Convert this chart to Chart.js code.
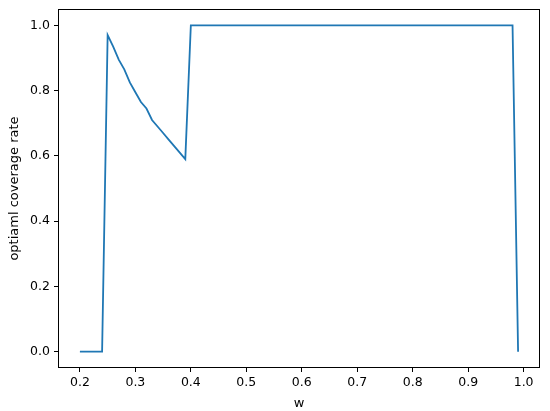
<!DOCTYPE html>
<html>
<head>
<meta charset="utf-8">
<script src="https://cdn.jsdelivr.net/npm/chart.js@4/dist/chart.umd.min.js"></script>
<style>
html,body{margin:0;padding:0;background:#fff;}
#wrap{width:550px;height:411px;position:relative;}
</style>
</head>
<body>
<div id="wrap"><canvas id="c" width="550" height="411"></canvas></div>
<script>
const wValues = [0.20,0.21,0.22,0.23,0.24,0.25,0.26,0.27,0.28,0.29,
  0.30,0.31,0.32,0.33,0.34,0.35,0.36,0.37,0.38,0.39,
  0.40,0.41,0.42,0.43,0.44,0.45,0.46,0.47,0.48,0.49,
  0.50,0.51,0.52,0.53,0.54,0.55,0.56,0.57,0.58,0.59,
  0.60,0.61,0.62,0.63,0.64,0.65,0.66,0.67,0.68,0.69,
  0.70,0.71,0.72,0.73,0.74,0.75,0.76,0.77,0.78,0.79,
  0.80,0.81,0.82,0.83,0.84,0.85,0.86,0.87,0.88,0.89,
  0.90,0.91,0.92,0.93,0.94,0.95,0.96,0.97,0.98,0.99];
const coverageRate = [0,0,0,0,0,0.97,0.935,0.895,0.865,0.825,
  0.795,0.765,0.745,0.71,0.69,0.67,0.65,0.63,0.61,0.59,
  1,1,1,1,1,1,1,1,1,1,
  1,1,1,1,1,1,1,1,1,1,
  1,1,1,1,1,1,1,1,1,1,
  1,1,1,1,1,1,1,1,1,1,
  1,1,1,1,1,1,1,1,1,1,
  1,1,1,1,1,1,1,1,1,0];
const xTicks = [0.2,0.3,0.4,0.5,0.6,0.7,0.8,0.9,1.0];
const yTicks = [0.0,0.2,0.4,0.6,0.8,1.0];
const xLabel = 'w';
const yLabel = 'optiaml coverage rate';

const points = wValues.map((w,i)=>({x:w,y:coverageRate[i]}));

const frame = {
  id:'frame',
  afterDraw(chart){
    const a = chart.chartArea, ctx = chart.ctx;
    ctx.save();
    ctx.strokeStyle = '#000';
    ctx.lineWidth = 1;
    ctx.strokeRect(Math.round(a.left)+0.5, Math.round(a.top)+0.5, Math.round(a.right-a.left)-1, Math.round(a.bottom-a.top)-1);
    ctx.restore();
  }
};

const font = {family:'DejaVu Sans', size:12.5};
const tfont = {family:'DejaVu Sans', size:13};
new Chart(document.getElementById('c'), {
  type:'line',
  data:{datasets:[{data:points, borderColor:'#1f77b4', borderWidth:1.8, pointRadius:0, fill:false, tension:0}]},
  options:{
    responsive:false, animation:false, devicePixelRatio:1,
    layout:{padding:{top:9,right:10,left:0,bottom:0}},
    plugins:{legend:{display:false}, tooltip:{enabled:false}},
    scales:{
      x:{type:'linear', min:0.1605, max:1.0295,
        afterBuildTicks(s){ s.ticks = xTicks.map(v=>({value:v})); },
        afterFit(s){ s.height = 43; s.paddingLeft = 0; s.paddingRight = 0; },
        ticks:{font, color:'#000', padding:3, maxRotation:0, callback:v=>v.toFixed(1)},
        grid:{display:true, drawOnChartArea:false, drawTicks:true, tickLength:4, color:'#000'},
        border:{display:false},
        title:{display:true, text:xLabel, font:tfont, color:'#000', padding:{top:1,bottom:0}}
      },
      y:{type:'linear', min:-0.05, max:1.05,
        afterBuildTicks(s){ s.ticks = yTicks.map(v=>({value:v})); },
        afterFit(s){ s.width = 58; s.paddingTop = 0; s.paddingBottom = 0; },
        ticks:{font, color:'#000', padding:4, callback:v=>v.toFixed(1)},
        grid:{display:true, drawOnChartArea:false, drawTicks:true, tickLength:4, color:'#000'},
        border:{display:false},
        title:{display:true, text:yLabel, font:tfont, color:'#000', padding:{top:7,bottom:0}}
      }
    }
  },
  plugins:[frame]
});
</script>
</body>
</html>
